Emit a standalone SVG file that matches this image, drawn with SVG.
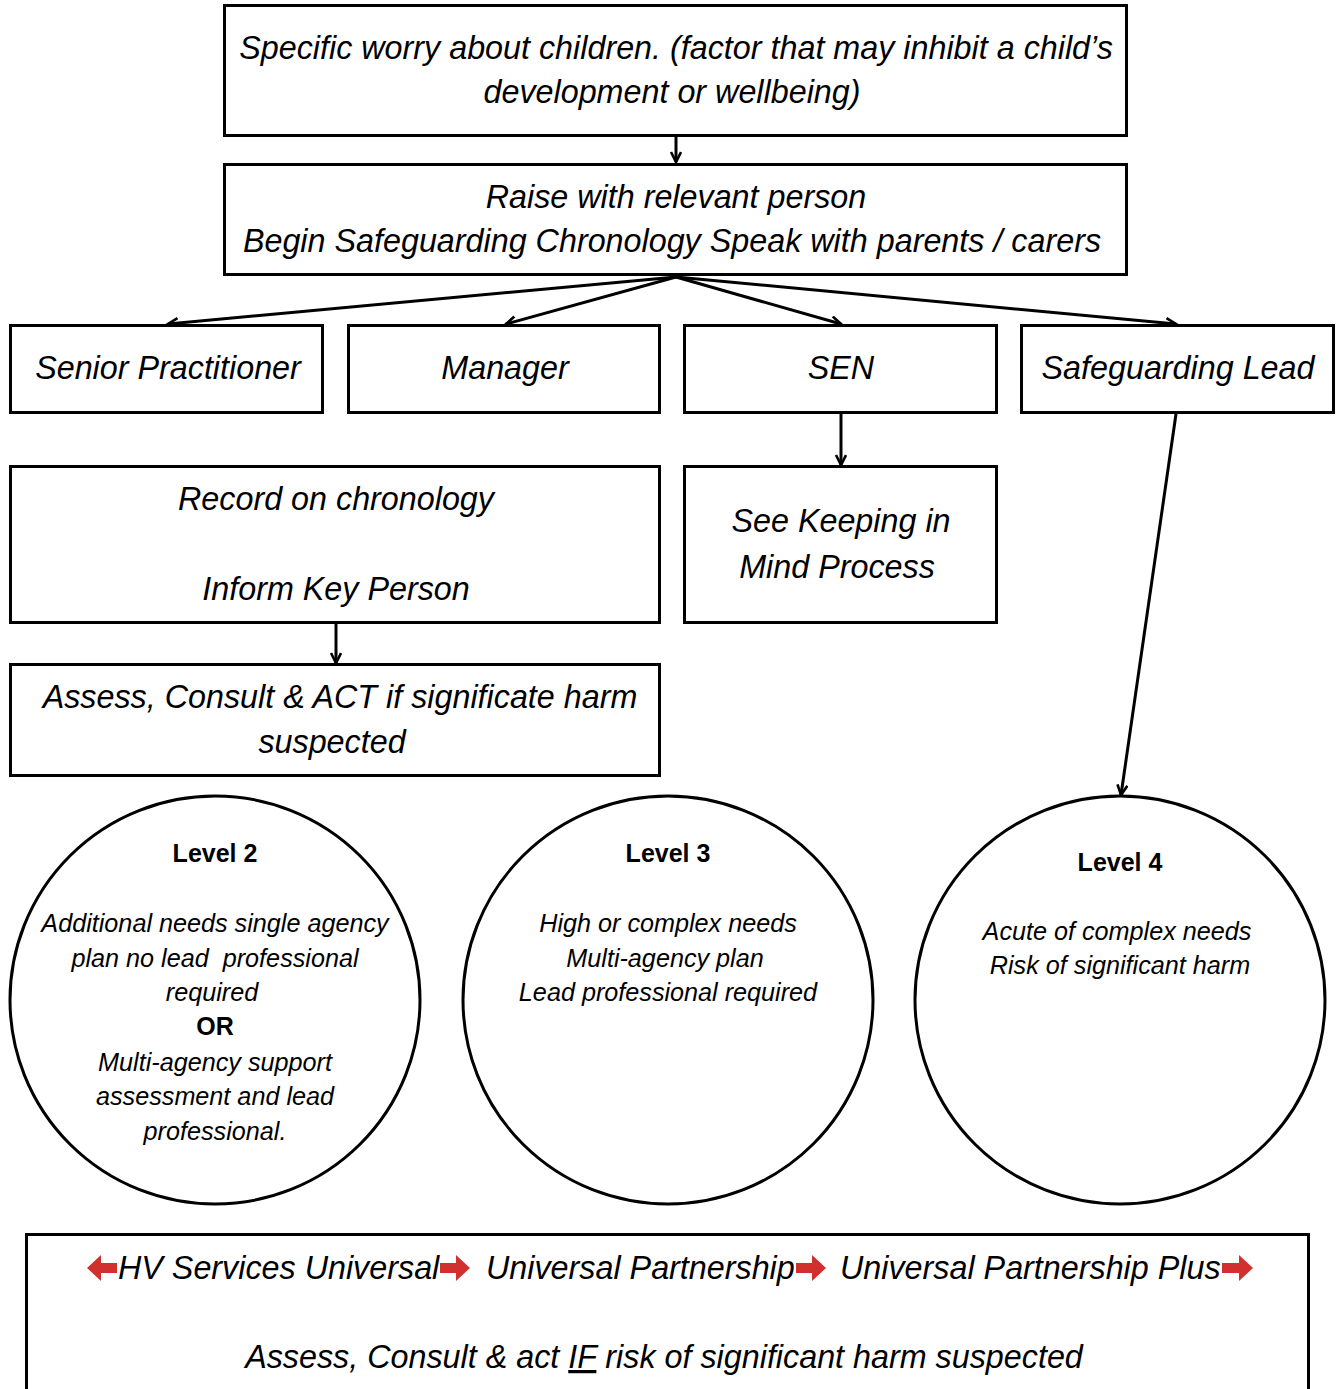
<svg xmlns="http://www.w3.org/2000/svg" width="1341" height="1389" viewBox="0 0 1341 1389">
<style>
.box{fill:#fff;stroke:#000;stroke-width:3}
.circ{fill:#fff;stroke:#000;stroke-width:3}
.t{font-family:"Liberation Sans",Arial,sans-serif;font-style:italic;font-size:32.3px;fill:#000;text-anchor:middle}
.c{font-family:"Liberation Sans",Arial,sans-serif;font-style:italic;font-size:25.2px;fill:#000;text-anchor:middle}
.b{font-family:"Liberation Sans",Arial,sans-serif;font-weight:bold;font-size:25px;fill:#000;text-anchor:middle}
.ts{font-family:"Liberation Sans",Arial,sans-serif;font-style:italic;font-size:32.3px;fill:#000}
.conn{stroke:#000;stroke-width:3;fill:none;marker-end:url(#ah)}
.red{fill:#d2302f}
</style>
<defs>
<marker id="ah" markerUnits="userSpaceOnUse" markerWidth="14" markerHeight="14" refX="11" refY="6" orient="auto">
<path d="M1,1 L11,6 L1,11" fill="none" stroke="#000" stroke-width="2.6"/>
</marker>
</defs>
<rect width="1341" height="1389" fill="#fff"/>

<g id="connectors">
<line class="conn" x1="676" y1="137" x2="676" y2="162"/>
<line class="conn" x1="676" y1="277" x2="168" y2="324"/>
<line class="conn" x1="676" y1="277" x2="506" y2="324"/>
<line class="conn" x1="676" y1="277" x2="841" y2="324"/>
<line class="conn" x1="676" y1="277" x2="1176" y2="324"/>
<line class="conn" x1="841" y1="414" x2="841" y2="465"/>
<line class="conn" x1="336" y1="624" x2="336" y2="663"/>
<line class="conn" x1="1176" y1="414" x2="1121" y2="795"/>
</g>

<g id="worry">
<rect class="box" x="224.5" y="5.5" width="902" height="130"/>
<text class="t" x="676" y="59">Specific worry about children. (factor that may inhibit a child’s</text>
<text class="t" x="672" y="103">development or wellbeing)</text>
</g>

<g id="raise">
<rect class="box" x="224.5" y="164.5" width="902" height="110"/>
<text class="t" x="676" y="208">Raise with relevant person</text>
<text class="t" x="672" y="252">Begin Safeguarding Chronology Speak with parents / carers</text>
</g>

<g id="senior">
<rect class="box" x="10.5" y="325.5" width="312" height="87"/>
<text class="t" x="168" y="379">Senior Practitioner</text>
</g>
<g id="manager">
<rect class="box" x="348.5" y="325.5" width="311" height="87"/>
<text class="t" x="505" y="379">Manager</text>
</g>
<g id="sen">
<rect class="box" x="684.5" y="325.5" width="312" height="87"/>
<text class="t" x="841" y="379">SEN</text>
</g>
<g id="lead">
<rect class="box" x="1021.5" y="325.5" width="312" height="87"/>
<text class="t" x="1178" y="379">Safeguarding Lead</text>
</g>

<g id="record">
<rect class="box" x="10.5" y="466.5" width="649" height="156"/>
<text class="t" x="336" y="510">Record on chronology</text>
<text class="t" x="336" y="600">Inform Key Person</text>
</g>

<g id="keeping">
<rect class="box" x="684.5" y="466.5" width="312" height="156"/>
<text class="t" x="841" y="532">See Keeping in</text>
<text class="t" x="837" y="578">Mind Process</text>
</g>

<g id="assess">
<rect class="box" x="10.5" y="664.5" width="649" height="111"/>
<text class="t" x="340" y="708">Assess, Consult &amp; ACT if significate harm</text>
<text class="t" x="332" y="753">suspected</text>
</g>

<g id="level2">
<ellipse class="circ" cx="215" cy="1000" rx="205" ry="204"/>
<text class="b" x="215" y="862">Level 2</text>
<text class="c" x="215" y="932">Additional needs single agency</text>
<text class="c" x="215" y="967" xml:space="preserve">plan no lead  professional</text>
<text class="c" x="212" y="1001">required</text>
<text class="b" x="215" y="1035">OR</text>
<text class="c" x="215" y="1071">Multi-agency support</text>
<text class="c" x="215" y="1105">assessment and lead</text>
<text class="c" x="215" y="1140">professional.</text>
</g>

<g id="level3">
<ellipse class="circ" cx="668" cy="1000" rx="205" ry="204"/>
<text class="b" x="668" y="862">Level 3</text>
<text class="c" x="668" y="932">High or complex needs</text>
<text class="c" x="665" y="967">Multi-agency plan</text>
<text class="c" x="668" y="1001">Lead professional required</text>
</g>

<g id="level4">
<ellipse class="circ" cx="1120" cy="1000" rx="205" ry="204"/>
<text class="b" x="1120" y="871">Level 4</text>
<text class="c" x="1117" y="940">Acute of complex needs</text>
<text class="c" x="1120" y="974">Risk of significant harm</text>
</g>

<g id="services">
<rect class="box" x="26.5" y="1234.5" width="1282" height="170"/>
<polygon class="red" points="87,1268 101,1255 101,1263 117,1263 117,1273 101,1273 101,1281"/>
<text class="ts" x="118" y="1279">HV Services Universal</text>
<polygon class="red" points="440,1263 456,1263 456,1255 470,1268 456,1281 456,1273 440,1273"/>
<text class="ts" x="486" y="1279">Universal Partnership</text>
<polygon class="red" points="796,1263 812,1263 812,1255 826,1268 812,1281 812,1273 796,1273"/>
<text class="ts" x="840" y="1279">Universal Partnership Plus</text>
<polygon class="red" points="1222,1263 1239,1263 1239,1255 1253,1268 1239,1281 1239,1273 1222,1273"/>
<text class="t" x="664" y="1368">Assess, Consult &amp; act <tspan text-decoration="underline">IF</tspan> risk of significant harm suspected</text>
</g>
</svg>
